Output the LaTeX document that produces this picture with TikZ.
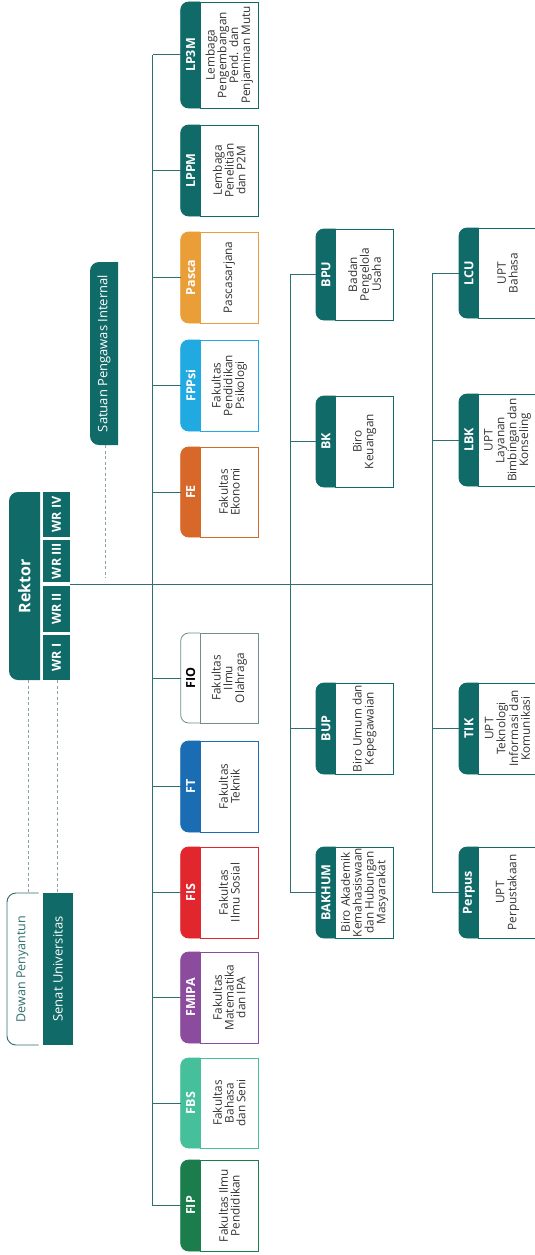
\documentclass[tikz,border=0pt]{standalone}
\usepackage{fontspec}
\setmainfont{Open Sans}
\definecolor{teal0}{HTML}{0F6A68}
\definecolor{linec}{HTML}{2F6F6D}
\definecolor{dashc}{HTML}{8AA3A2}
\definecolor{bodyc}{HTML}{333333}
\definecolor{cFIP}{HTML}{1A7D4B}
\definecolor{cFBS}{HTML}{45C09B}
\definecolor{cFMIPA}{HTML}{8B4C9E}
\definecolor{cFIS}{HTML}{E1262D}
\definecolor{cFT}{HTML}{1A6DB3}
\definecolor{cFE}{HTML}{D8682A}
\definecolor{cFPPsi}{HTML}{21A9E1}
\definecolor{cPasca}{HTML}{E99E38}
\definecolor{cFIO}{HTML}{6E8F8E}
\tikzset{
  conn/.style={draw=linec, line width=1pt},
  dashln/.style={draw=dashc, line width=0.8pt, dash pattern=on 3pt off 2.5pt},
  hdr/.style={rotate=90, font=\fontsize{12.5}{13}\selectfont\bfseries, inner sep=0pt},
  bodytxt/.style={rotate=90, font=\fontsize{11.8}{11.8}\selectfont, text=bodyc, align=center, inner sep=0pt},
  boxarea/.style={inner sep=0pt, outer sep=0pt, minimum width=77.6pt},
  wr/.style={rotate=90, fill=teal0, text=white, inner sep=0pt, minimum height=27pt, font=\fontsize{12.5}{13}\selectfont\bfseries},
  lbl/.style={rotate=90, inner sep=0pt, font=\fontsize{13}{14}\selectfont},
}
% name, x0, y0, y1, fill, border, header text colour, header, body
\newcommand\obox[9]{%
  \begin{scope}
    \clip ({#2-2},{#3-2}) rectangle ({#2+19.5},{#4+2});
    \filldraw[fill=#5, draw=#6, line width=0.8pt, rounded corners=8pt] (#2,#3) rectangle ({#2+45},#4);
  \end{scope}
  \draw[#6, line width=0.8pt] ({#2+19.5},#3) rectangle ({#2+77.6},#4);
  \pgfmathsetmacro\bh{#4-#3}%
  \node[boxarea, minimum height=\bh pt] (#1) at ({#2+38.8},{(#3+#4)/2}) {};
  \node[hdr, text=#7] (#1-h) at ({#2+9.9},{(#3+#4)/2}) {#8};
  \node[bodytxt] (#1-b) at ({#2+48.55},{(#3+#4)/2}) {#9};
}
\begin{document}
\begin{tikzpicture}[x=1pt,y=-1pt]
\useasboundingbox (0,0) rectangle (535,1255);
\fill[white] (0,0) rectangle (535,1255);
\clip (0,0) rectangle (535,1255);

% trunk coordinates
\coordinate (ftr) at (152.7,0);
\coordinate (btr) at (290,0);
\coordinate (utr) at (432.7,0);
\coordinate (mainL) at (70,584);

% ---- faculties / institutes
\obox{LP3M}{180.7}{2}{108}{teal0}{teal0}{white}{LP3M}{Lembaga\\Pengembangan\\Pend. dan\\Penjaminan Mutu}
\obox{LPPM}{180.7}{125}{216}{teal0}{teal0}{white}{LPPM}{Lembaga\\Penelitian\\dan P2M}
\obox{Pasca}{180.7}{232}{323}{cPasca}{cPasca}{white}{Pasca}{Pascasarjana}
\obox{FPPsi}{180.7}{340}{431}{cFPPsi}{cFPPsi}{white}{FPPsi}{Fakultas\\Pendidikan\\Psikologi}
\obox{FE}{180.7}{447}{537}{cFE}{cFE}{white}{FE}{Fakultas\\Ekonomi}
\obox{FIO}{180.7}{633}{723}{white}{cFIO}{black}{FIO}{Fakultas\\Ilmu\\Olahraga}
\obox{FT}{180.7}{741}{832}{cFT}{cFT}{white}{FT}{Fakultas\\Teknik}
\obox{FIS}{180.7}{847}{938}{cFIS}{cFIS}{white}{FIS}{Fakultas\\Ilmu Sosial}
\obox{FMIPA}{180.7}{952}{1043}{cFMIPA}{cFMIPA}{white}{FMIPA}{Fakultas\\Matematika\\dan IPA}
\obox{FBS}{180.7}{1058}{1148}{cFBS}{cFBS}{white}{FBS}{Fakultas\\Bahasa\\dan Seni}
\obox{FIP}{180.7}{1160}{1251}{cFIP}{cFIP}{white}{FIP}{Fakultas Ilmu\\Pendidikan}

% ---- biro
\obox{BPU}{316}{229}{320}{teal0}{teal0}{white}{BPU}{Badan\\Pengelola\\Usaha}
\obox{BK}{316}{396}{487}{teal0}{teal0}{white}{BK}{Biro\\Keuangan}
\obox{BUP}{316}{683}{774}{teal0}{teal0}{white}{BUP}{Biro Umum dan\\Kepegawaian}
\obox{BAKHUM}{316}{847}{938}{teal0}{teal0}{white}{BAKHUM}{Biro Akademik\\Kemahasiswaan\\dan Hubungan\\Masyarakat}

% ---- UPT
\obox{LCU}{459}{228}{318}{teal0}{teal0}{white}{LCU}{UPT\\Bahasa}
\obox{LBK}{459}{394}{486}{teal0}{teal0}{white}{LBK}{UPT\\Layanan\\Bimbingan dan\\Konseling}
\obox{TIK}{459}{683}{774}{teal0}{teal0}{white}{TIK}{UPT\\Teknologi\\Informasi dan\\Komunikasi}
\obox{Perpus}{459}{847}{938}{teal0}{teal0}{white}{Perpus}{UPT\\Perpustakaan}

% ---- trunks and connectors
\draw[conn] (LP3M.west -| ftr) -- (FIP.west -| ftr);
\foreach \n in {LP3M,LPPM,Pasca,FPPsi,FE,FIO,FT,FIS,FMIPA,FBS,FIP}
  \draw[conn] (\n.west -| ftr) -- (\n.west);
\draw[conn] (BPU.west -| btr) -- (BAKHUM.west -| btr);
\foreach \n in {BPU,BK,BUP,BAKHUM}
  \draw[conn] (\n.west -| btr) -- (\n.west);
\draw[conn] (LCU.west -| utr) -- (Perpus.west -| utr);
\foreach \n in {LCU,LBK,TIK,Perpus}
  \draw[conn] (\n.west -| utr) -- (\n.west);
\draw[conn] (mainL) -- (mainL -| utr);

% ---- Rektor
\begin{scope}
  \clip (9,492) rectangle (40,680);
  \fill[teal0, rounded corners=9pt] (9,492) rectangle (60,680);
\end{scope}
\node[rotate=90, text=white, inner sep=0pt, font=\fontsize{16}{17}\selectfont\bfseries] (rektor) at (24.5,586) {Rektor};
\node[wr, minimum width=45pt] (wr4) at (56.5,514.5) {WR IV};
\node[wr, minimum width=42pt] (wr3) at (56.5,561) {WR III};
\node[wr, minimum width=46pt] (wr2) at (56.5,609) {WR II};
\node[wr, minimum width=45pt] (wr1) at (56.5,657.5) {WR I};

% ---- SPI
\begin{scope}
  \clip (90,262) rectangle (118,445);
  \fill[teal0, rounded corners=9pt] (90,262) rectangle (140,445);
\end{scope}
\node[lbl, text=white] (spi) at (104,353.5) {Satuan Pengawas Internal};
\coordinate (spiS) at (105,445);
\coordinate (spiE) at (105,578);
\draw[dashln] (spiS) -- (spiE);

% ---- Dewan Penyantun and Senat
\begin{scope}
  \clip (6,892) rectangle (38.5,1046);
  \draw[linec, line width=0.9pt, rounded corners=9pt] (7,893) rectangle (60,1045);
\end{scope}
\node[lbl, text=linec, font=\fontsize{12.5}{14}\selectfont] (dewan) at (22.5,969) {Dewan Penyantun};
\node[lbl, fill=teal0, text=white, minimum width=152pt, minimum height=30pt] (senat) at (58,969) {Senat Universitas};
\coordinate (rkS) at (28,680);
\coordinate (dpN) at (28,893);
\coordinate (wrS) at (57,680);
\coordinate (snN) at (57,893);
\draw[dashln] (rkS) -- (dpN);
\draw[dashln] (wrS) -- (snN);
\end{tikzpicture}
\end{document}
